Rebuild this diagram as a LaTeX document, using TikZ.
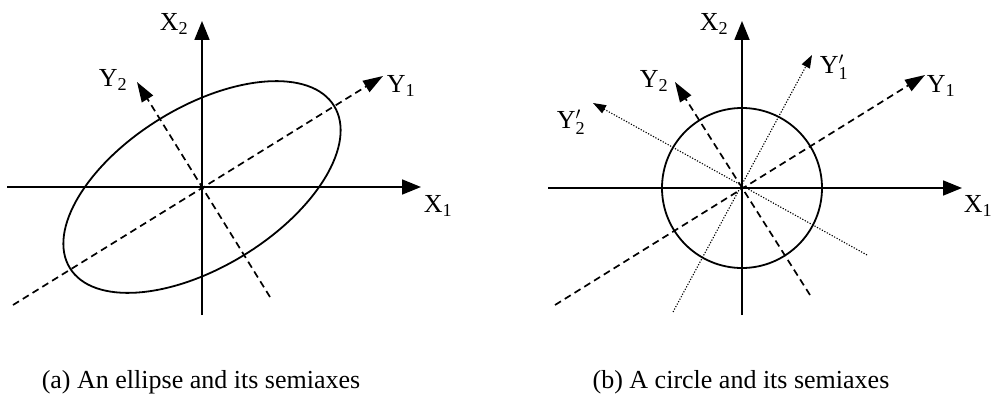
\documentclass[tikz,border=0pt]{standalone}
\usepackage{fontspec}
\setmainfont{Liberation Serif}
\usetikzlibrary{arrows.meta}
\tikzset{
  axis/.style={line width=1.8pt,-{Triangle[length=19pt,width=15pt]}},
  semi/.style={line width=1.7pt,dash pattern=on 7pt off 4.5pt,-{Triangle[length=20pt,width=13pt]}},
  semidot/.style={line width=1.1pt,dash pattern=on 1.2pt off 1.6pt,-{Triangle[length=13pt,width=9pt]}},
  lab/.style={font=\fontsize{26}{29}\selectfont,inner sep=0pt},
  caption/.style={font=\fontsize{26}{29}\selectfont},
}
\begin{document}
\begin{tikzpicture}[x=1pt,y=1pt]
  \useasboundingbox (0,0) rectangle (991,408);
  % (a) ellipse
  \coordinate (oa) at (202,221);
  \draw[line width=1.8pt,rotate around={31.5:(oa)}] (oa) ellipse[x radius=155,y radius=80];
  \draw[axis] (7,221) coordinate (xa0) -- (421,221) coordinate (xa1);
  \draw[axis] (202,93) coordinate (ya0) -- (202,387) coordinate (ya1);
  \draw[semi] (13,103) -- (383,332);
  \draw[semi] (270,111) -- (137,326);
  \node[lab] (ax2) at (174,384) {X\textsubscript{2}};
  \node[lab] (ax1) at (438,202) {X\textsubscript{1}};
  \node[lab] (ay1) at (401,322) {Y\textsubscript{1}};
  \node[lab] (ay2) at (113,328) {Y\textsubscript{2}};
  % (b) circle
  \coordinate (ob) at (742,220);
  \draw[line width=1.8pt] (ob) circle[radius=80];
  \draw[axis] (548,220) coordinate (xb0) -- (962,220) coordinate (xb1);
  \draw[axis] (742,93) coordinate (yb0) -- (742,387) coordinate (yb1);
  \draw[semi] (555,103) -- (925,333);
  \draw[semi] (810,113) -- (675,326);
  \draw[semidot] (673,96) -- (812,353);
  \draw[semidot] (867,153) -- (593,305);
  \node[lab] (bx2) at (714,384) {X\textsubscript{2}};
  \node[lab] (bx1) at (978,202) {X\textsubscript{1}};
  \node[lab] (by1) at (941,322) {Y\textsubscript{1}};
  \node[lab] (by2) at (654,327) {Y\textsubscript{2}};
  \node[lab] (by1p) at (834,341) {Y$'_{\mathrm{1}}$};
  \node[lab] (by2p) at (571,286) {Y$'_{\mathrm{2}}$};
  % captions
  \node[caption] (capa) at (201,26) {(a) An ellipse and its semiaxes};
  \node[caption] (capb) at (741,26) {(b) A circle and its semiaxes};
\end{tikzpicture}
\end{document}
